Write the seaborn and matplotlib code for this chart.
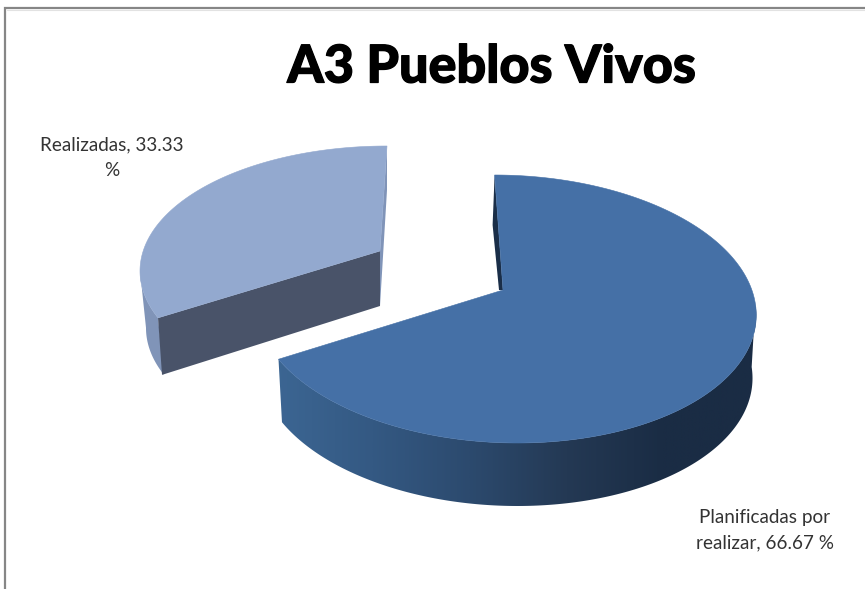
import numpy as np
import matplotlib
matplotlib.use("Agg")
import matplotlib.pyplot as plt
import matplotlib.patheffects as pe
from matplotlib.patches import Polygon
import seaborn as sns

# Chart content
chart_title = "A3 Pueblos Vivos"
slice_names = ["Planificadas por\nrealizar", "Realizadas"]
slice_values = [66.67, 33.33]

# Colours
top_colors = ["#4570a6", "#93a9cf"]
main_wall_stops = ["#3c6693", "#345983", "#2c4a6e", "#243954", "#1a2c44", "#1a2c44"]
small_wall_dark = "#495369"
small_wall_light = "#8094b8"
main_inner_dark = "#1a2e48"

sns.set_theme(style="white")
plt.rcParams["font.family"] = ["Lato", "DejaVu Sans"]

fig, ax = plt.subplots(figsize=(8.65, 5.89), dpi=100)
ax.set_position([0, 0, 1, 1])
ax.axis("off")


def warp(t):
    """Foreshorten a pie angle (degrees) the way a tilted disc shows it."""
    t = np.asarray(t, dtype=float)
    return t - 9.2 * np.sin(np.radians(t))


def rim(t, cx, cy, rx, ry, shear=0.0):
    s = np.radians(warp(t))
    dy = -ry * np.cos(s)
    return cx + rx * np.sin(s) + shear * dy, cy + dy


# Pie angles come from the values, clockwise from twelve o'clock
fractions = np.array(slice_values) / sum(slice_values)
main_end = 360 * fractions[0]
small_start, small_end = main_end, 360.0

# Large slice geometry
m_cx, m_cy, m_rx, m_ry, m_shear = 506, 309, 250, 134, 0.085
m_depth, m_shrink = 63, 0.985
m_apex = (503, 290)

# Detached slice geometry
s_cx, s_cy, s_rx, s_ry = 387, 271, 247, 125
s_depth = 57
s_apex = (380, 251)

# Large slice: outer wall shaded left to right by a horizontal gradient
wall_ts = np.linspace(97, main_end, 200)
wx0, wy0 = rim(wall_ts, m_cx, m_cy, m_rx, m_ry, m_shear)
wx1, wy1 = rim(wall_ts[::-1], m_cx, m_cy + m_depth, m_rx * m_shrink, m_ry, m_shear)
wall_shape = Polygon(np.c_[np.r_[wx0, wx1], np.r_[wy0, wy1]], closed=True,
                     transform=ax.transData, facecolor="none", edgecolor="none")
ax.add_patch(wall_shape)
wall_cmap = sns.blend_palette(main_wall_stops, as_cmap=True)
gradient = ax.imshow(np.linspace(0, 1, 512)[None, :], cmap=wall_cmap, aspect="auto",
                     extent=(wx0.min() - 5, wx0.max() + 5, 520, 300), zorder=1)
gradient.set_clip_path(wall_shape)

# Large slice: sliver of the inner wall along the twelve o'clock edge
top_x, top_y = rim(0.0, m_cx, m_cy, m_rx, m_ry, m_shear)
ax.fill([top_x, top_x - 2, m_apex[0] - 4, m_apex[0]],
        [top_y, top_y + 50, m_apex[1], m_apex[1]],
        facecolor=main_inner_dark, edgecolor="none", zorder=2)

# Large slice: top face
arc = np.linspace(0, main_end, 240)
ax_, ay_ = rim(arc, m_cx, m_cy, m_rx, m_ry, m_shear)
ax.fill(np.r_[m_apex[0], ax_], np.r_[m_apex[1], ay_],
        facecolor=top_colors[0], edgecolor=top_colors[0], linewidth=0.4, zorder=3)

# Detached slice: outer wall visible on the far left
left_ts = np.linspace(small_start, 261, 40)
lx0, ly0 = rim(left_ts, s_cx, s_cy, s_rx, s_ry)
lx1, ly1 = rim(left_ts[::-1], s_cx + 6, s_cy + s_depth, s_rx, s_ry)
ax.fill(np.r_[lx0, lx1], np.r_[ly0, ly1], facecolor=small_wall_light, edgecolor="none", zorder=2)

# Detached slice: cut face towards the viewer
cx_, cy_ = rim(small_start, s_cx, s_cy, s_rx, s_ry)
ax.fill([s_apex[0], cx_, cx_ + 4, s_apex[0]],
        [s_apex[1], cy_, cy_ + s_depth, s_apex[1] + 55],
        facecolor=small_wall_dark, edgecolor="none", zorder=2)

# Detached slice: thin wall on its right edge
ex_, ey_ = rim(small_end, s_cx, s_cy, s_rx, s_ry)
ax.fill([ex_, ex_, s_apex[0], s_apex[0]],
        [ey_, ey_ + 44, s_apex[1] + 55, s_apex[1]],
        facecolor=small_wall_light, edgecolor="none", zorder=2)

# Detached slice: top face
arc = np.linspace(small_start, small_end, 160)
bx_, by_ = rim(arc, s_cx, s_cy, s_rx, s_ry)
ax.fill(np.r_[s_apex[0], bx_], np.r_[s_apex[1], by_],
        facecolor=top_colors[1], edgecolor=top_colors[1], linewidth=0.4, zorder=3)

# Chart frame: only the top and left edges fall inside the image
ax.plot([5, 5, 865], [589, 8, 8], color="#868686", linewidth=1.6,
        solid_joinstyle="miter", clip_on=False, zorder=4)
ax.plot([7, 865], [9.5, 9.5], color="#e2e2e2", linewidth=0.8, zorder=4)

# Title and data labels
ax.text(492, 68, chart_title, ha="center", va="center", fontsize=37.5,
        fontweight="black", color="black", zorder=5,
        path_effects=[pe.withStroke(linewidth=0.9, foreground="black")])
label_color = "#333333"
ax.text(765, 530, f"{slice_names[0]}, {slice_values[0]:.2f} %", ha="center", va="center",
        fontsize=13.6, color=label_color, linespacing=1.6, zorder=5)
ax.text(111.5, 158, f"{slice_names[1]}, {slice_values[1]:.2f}\n%", ha="center", va="center",
        fontsize=13.6, color=label_color, linespacing=1.6, zorder=5)

ax.set_xlim(0, 865)
ax.set_ylim(589, 0)

fig.savefig("out.png", dpi=100, facecolor="white")
